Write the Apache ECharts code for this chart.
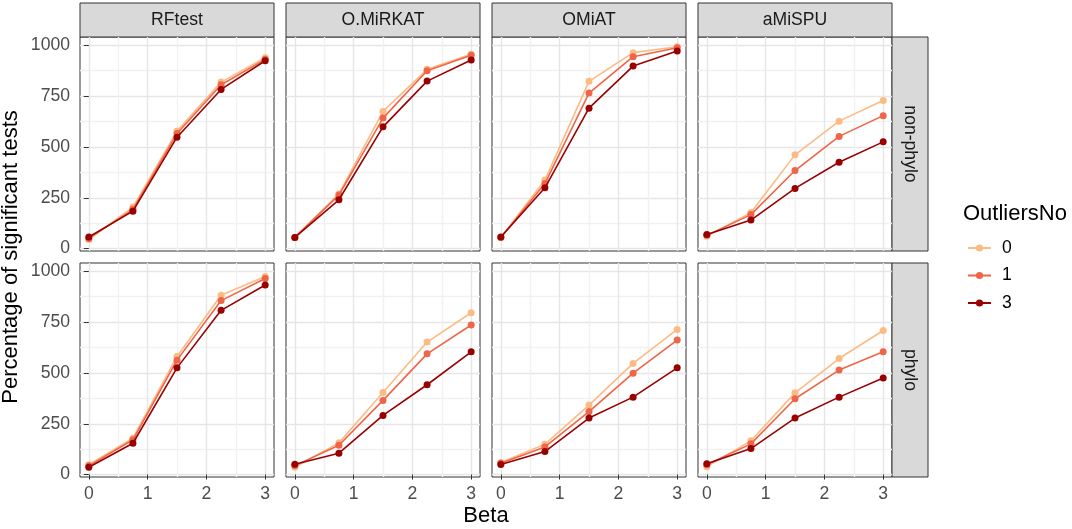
<!DOCTYPE html>
<html>
<head>
<meta charset="utf-8">
<script src="https://cdn.jsdelivr.net/npm/echarts@6/dist/echarts.min.js"></script>
<style>
html,body{margin:0;padding:0;background:#fff;}
#chart{width:1072px;height:529px;}
</style>
</head>
<body>
<div id="chart"></div>
<script>
// ---- data ----
const betas = [0, 0.75, 1.5, 2.25, 3];
const methods = ['RFtest', 'O.MiRKAT', 'OMiAT', 'aMiSPU'];
const types = ['non-phylo', 'phylo'];
const outlierLevels = ['0', '1', '3'];
const xTicks = [0, 1, 2, 3];
const xMinorTicks = [0.5, 1.5, 2.5];
const yTicks = [0, 250, 500, 750, 1000];
const yMinorTicks = [125, 375, 625, 875];

// rows: outliers 0, 1, 3 ; columns: betas
const nonphylo_RFtest   = [[45, 204, 578, 819, 939], [50, 193, 566, 806, 931], [57, 184, 548, 783, 924]];
const nonphylo_OMiRKAT  = [[55, 269, 675, 882, 956], [55, 263, 642, 875, 951], [55, 240, 599, 824, 928]];
const nonphylo_OMiAT    = [[55, 337, 823, 964, 993], [55, 320, 765, 944, 988], [57, 299, 691, 898, 972]];
const nonphylo_aMiSPU   = [[61, 177, 461, 627, 729], [65, 167, 384, 552, 654], [69, 140, 296, 425, 525]];
const phylo_RFtest      = [[48, 179, 581, 882, 975], [43, 171, 563, 856, 965], [36, 154, 525, 808, 933]];
const phylo_OMiRKAT     = [[36, 156, 404, 652, 796], [44, 144, 365, 594, 736], [51, 105, 291, 442, 604]];
const phylo_OMiAT       = [[59, 149, 342, 547, 714], [56, 136, 310, 499, 662], [49, 113, 278, 381, 525]];
const phylo_aMiSPU      = [[39, 166, 402, 571, 709], [48, 151, 373, 514, 604], [53, 128, 278, 381, 475]];

const panelData = [
  [nonphylo_RFtest, nonphylo_OMiRKAT, nonphylo_OMiAT, nonphylo_aMiSPU],
  [phylo_RFtest, phylo_OMiRKAT, phylo_OMiAT, phylo_aMiSPU]
];

// ---- styling / layout ----
const colors = ['#FDBB84', '#EF6548', '#990000'];
const FONT = '"Liberation Sans", Arial, Helvetica, sans-serif';
const MAJOR = '#E6E6E6', MINOR = '#F1F1F1';
const colLeft = [80, 286, 492, 698];
const W = 194, H = 214;
const rowTop = [37, 263];
const xMin = -0.15, xMax = 3.15, yMin = -12, yMax = 1041;

const xGridVals = xTicks.concat(xMinorTicks).sort((a, b) => a - b);
const yGridVals = yTicks.concat(yMinorTicks).sort((a, b) => a - b);

const option = {
  animation: false,
  backgroundColor: '#fff',
  textStyle: { fontFamily: FONT },
  grid: [], xAxis: [], yAxis: [], series: [], graphic: [],
  legend: {
    data: outlierLevels,
    orient: 'vertical',
    left: 962, top: 234,
    itemWidth: 23, itemHeight: 9, itemGap: 9.5,
    textStyle: { fontSize: 17.6, color: '#000', fontFamily: FONT, padding: [0, 0, 0, 6] },
    selectedMode: false
  }
};

types.forEach((t, r) => {
  methods.forEach((m, c) => {
    const gi = r * 4 + c;
    option.grid.push({
      left: colLeft[c], top: rowTop[r], width: W, height: H,
      show: true, borderColor: '#333', borderWidth: 1, backgroundColor: '#fff'
    });
    // grid-line axes (hidden)
    option.xAxis.push({
      type: 'value', gridIndex: gi, min: xMin, max: xMax, position: 'top',
      axisLine: { show: false },
      axisTick: { show: false, customValues: xGridVals },
      axisLabel: { show: false, customValues: xGridVals },
      splitLine: { show: true, customValues: xGridVals, lineStyle: { color: [MAJOR, MINOR], width: 1.4 } }
    });
    option.xAxis.push({
      type: 'value', gridIndex: gi, min: xMin, max: xMax, position: 'bottom',
      axisLine: { show: false },
      axisTick: { show: r === 1, length: 5, customValues: xTicks, lineStyle: { color: '#333', width: 1 } },
      axisLabel: { show: r === 1, customValues: xTicks, margin: 8, fontSize: 17.6, color: '#4D4D4D', fontFamily: FONT, formatter: v => String(v) },
      splitLine: { show: false }
    });
    option.yAxis.push({
      type: 'value', gridIndex: gi, min: yMin, max: yMax, position: 'right',
      axisLine: { show: false },
      axisTick: { show: false, customValues: yGridVals },
      axisLabel: { show: false, customValues: yGridVals },
      splitLine: { show: true, customValues: yGridVals, lineStyle: { color: [MAJOR, MINOR], width: 1.4 } }
    });
    option.yAxis.push({
      type: 'value', gridIndex: gi, min: yMin, max: yMax, position: 'left',
      axisLine: { show: false },
      axisTick: { show: c === 0, length: 5, customValues: yTicks, lineStyle: { color: '#333', width: 1 } },
      axisLabel: { show: c === 0, customValues: yTicks, margin: 10, fontSize: 17.6, color: '#4D4D4D', fontFamily: FONT, formatter: v => String(v) },
      splitLine: { show: false }
    });
    const vals = panelData[r][c];
    outlierLevels.forEach((lvl, k) => {
      option.series.push({
        type: 'line', name: lvl,
        xAxisIndex: gi * 2 + 1, yAxisIndex: gi * 2 + 1,
        data: betas.map((b, i) => [b, vals[k][i]]),
        symbol: 'circle', symbolSize: 7, showSymbol: true,
        lineStyle: { color: colors[k], width: 1.6 },
        itemStyle: { color: colors[k], borderWidth: 0 },
        z: 3 + k, silent: true
      });
    });
    // top strips
    if (r === 0) {
      option.graphic.push({
        type: 'group', z: 10,
        children: [
          { type: 'rect', shape: { x: colLeft[c], y: 3, width: W, height: 34 }, style: { fill: '#D9D9D9', stroke: '#333', lineWidth: 1 } },
          { type: 'text', x: colLeft[c] + W / 2, y: 20, style: { text: m, fill: '#1A1A1A', font: '17.6px ' + FONT, textAlign: 'center', textVerticalAlign: 'middle' } }
        ]
      });
    }
  });
  // right strips
  option.graphic.push({
    type: 'group', z: 10,
    children: [
      { type: 'rect', shape: { x: colLeft[3] + W, y: rowTop[r], width: 36, height: H }, style: { fill: '#D9D9D9', stroke: '#333', lineWidth: 1 } },
      { type: 'text', x: colLeft[3] + W + 18, y: rowTop[r] + H / 2, rotation: -Math.PI / 2, style: { text: t, fill: '#1A1A1A', font: '17.6px ' + FONT, textAlign: 'center', textVerticalAlign: 'middle' } }
    ]
  });
});

// axis titles and legend title
option.graphic.push(
  { type: 'text', x: 486, y: 516, style: { text: 'Beta', fill: '#000', font: '22px ' + FONT, textAlign: 'center', textVerticalAlign: 'middle' } },
  { type: 'text', x: 11, y: 257, rotation: Math.PI / 2, style: { text: 'Percentage of significant tests', fill: '#000', font: '22px ' + FONT, textAlign: 'center', textVerticalAlign: 'middle' } },
  { type: 'text', x: 963, y: 214, style: { text: 'OutliersNo', fill: '#000', font: '22px ' + FONT, textAlign: 'left', textVerticalAlign: 'middle' } }
);

const chart = echarts.init(document.getElementById('chart'), null, { renderer: 'canvas' });
chart.setOption(option);
</script>
</body>
</html>
